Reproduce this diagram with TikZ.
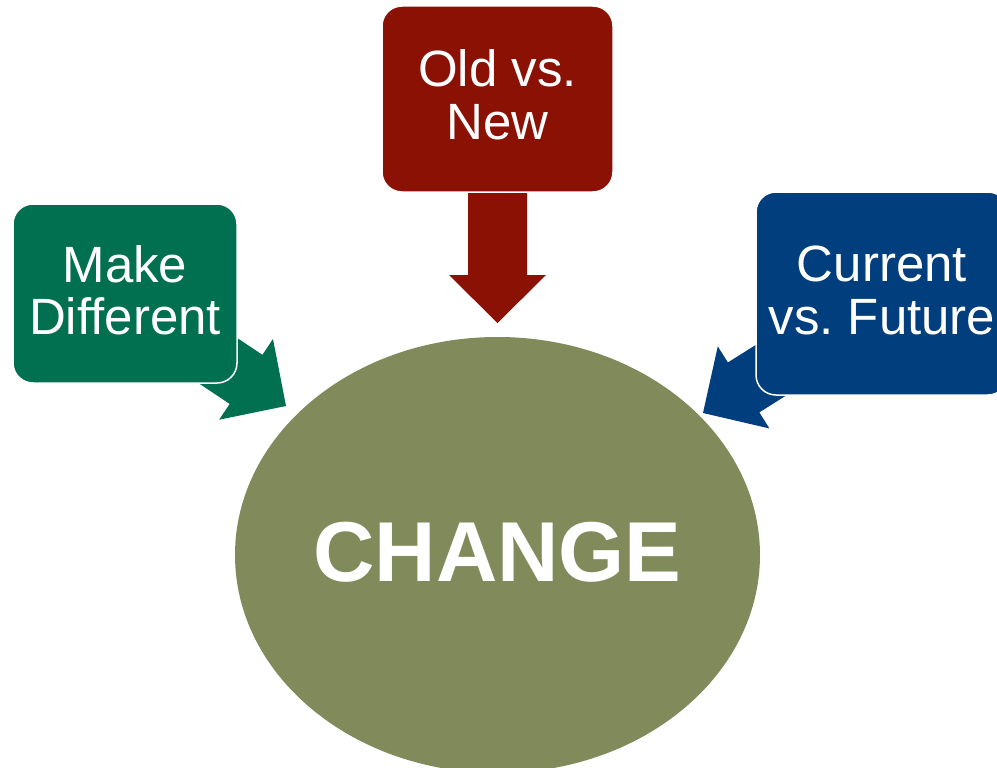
\documentclass[tikz,border=0pt]{standalone}
\usepackage{fontspec}
\setmainfont[Ligatures=NoCommon]{Liberation Sans}
\usetikzlibrary{shapes.geometric}
\definecolor{boxgreen}{RGB}{0,112,80}
\definecolor{boxred}{RGB}{139,17,5}
\definecolor{boxblue}{RGB}{0,62,126}
\definecolor{olivefill}{RGB}{128,138,90}
\frenchspacing
\begin{document}
\begin{tikzpicture}[x=1pt,y=-1pt,
  box/.style={rectangle, rounded corners=20pt, draw=white, line width=1.5pt, inner sep=0pt},
  boxtext/.style={text=white, align=center, inner sep=0pt, font=\fontsize{51}{52.5}\selectfont},
]
\useasboundingbox (0,0) rectangle (997,768);
\clip (0,0) rectangle (997,768);

% central ellipse
\node[ellipse, fill=olivefill, minimum width=525pt, minimum height=436pt, inner sep=0pt] (change) at (497.5,555) {};
\node[text=white, anchor=base, inner sep=0pt, font=\bfseries\fontsize{85}{85}\selectfont] (changelabel) at (497.5,581) {CHANGE};

% arrow tips
\coordinate (redtip) at (497.5,323);
\coordinate (greentip) at (286,406);
\coordinate (bluetip) at (703,413);

% block arrows
\begin{scope}[shift={(redtip)}, rotate=-90]
  \fill[boxred] (0,0) -- (-48,48.5) -- (-48,29.5) -- (-136,29.5) -- (-136,-29.5) -- (-48,-29.5) -- (-48,-48.5) -- cycle;
\end{scope}
\begin{scope}[shift={(greentip)}, rotate=-33.7]
  \fill[boxgreen] (0,0) -- (-48,48.5) -- (-48,29.5) -- (-130,29.5) -- (-130,-29.5) -- (-48,-29.5) -- (-48,-48.5) -- cycle;
\end{scope}
\begin{scope}[shift={(bluetip)}, rotate=212.2]
  \fill[boxblue] (0,0) -- (-48,48.5) -- (-48,29.5) -- (-130,29.5) -- (-130,-29.5) -- (-48,-29.5) -- (-48,-48.5) -- cycle;
\end{scope}

% boxes
\node[box, fill=boxred, minimum width=231pt, minimum height=186pt] (oldnew) at (497.5,99) {};
\node[boxtext] (oldnewtext) at ([yshift=4pt]oldnew.center) {Old vs.\\New};

\node[box, fill=boxgreen, minimum width=224pt, minimum height=179pt] (make) at (125,293.5) {};
\node[boxtext] (maketext) at ([yshift=3pt]make.center) {Make\\Different};

\node[box, fill=boxblue, minimum width=252pt, minimum height=203pt] (current) at (882,293.5) {};
\node[boxtext] (currenttext) at ([yshift=3pt]current.center) {Current\\vs. Future};
\end{tikzpicture}
\end{document}
